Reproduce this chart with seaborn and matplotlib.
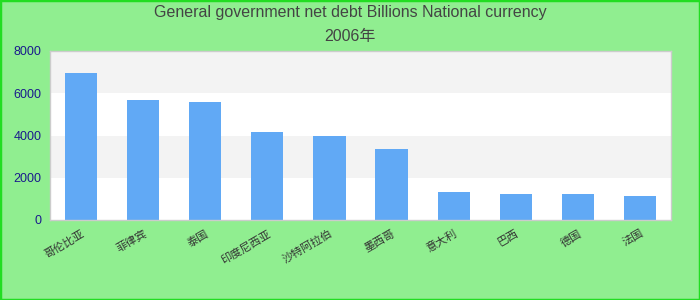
import matplotlib
matplotlib.use("Agg")
import matplotlib.pyplot as plt
import seaborn as sns
import pandas as pd
from matplotlib.patches import Rectangle

countries = ["哥伦比亚", "菲律宾", "泰国", "印度尼西亚", "沙特阿拉伯",
             "墨西哥", "意大利", "巴西", "德国", "法国"]
values = [6950, 5700, 5600, 4150, 3980, 3370, 1330, 1240, 1240, 1140]
yticks = [0, 2000, 4000, 6000, 8000]
title_line1 = "General government net debt Billions National currency"
title_line2 = "2006年"

sns.set_theme(style="white")
plt.rcParams['font.family'] = ['Liberation Sans', 'Noto Sans CJK SC', 'DejaVu Sans']

df = pd.DataFrame({"country": countries, "value": values})

fig = plt.figure(figsize=(7, 3), dpi=100, facecolor="#90EE90")
fig.patches.append(Rectangle((0, 0), 1, 1, transform=fig.transFigure,
                             fill=False, edgecolor="#22dd22", linewidth=2.5))
ax = fig.add_axes([50/700, 80/300, 621/700, 169/300])
ax.set_facecolor("white")

# alternating bands
for i in range(len(yticks) - 1):
    if i % 2 == 1:
        ax.axhspan(yticks[i], yticks[i+1], color="#f3f3f3", zorder=0, lw=0)

sns.barplot(data=df, x="country", y="value", color="#61a9f5", width=0.52,
            saturation=1, ax=ax, zorder=2, linewidth=0, edgecolor="none")

ax.set_ylim(0, 8000)
ax.set_xlim(-0.5, len(countries) - 0.5)
ax.set_yticks(yticks)
ax.set_yticklabels([str(t) for t in yticks], color="#1a1a8c", fontsize=9)
ax.set_xticks(range(len(countries)))
ax.set_xticklabels(countries, rotation=30, ha="right", fontsize=8, color="#333333",
                   rotation_mode="anchor")
ax.tick_params(axis="both", length=0, pad=6)
ax.set_xlabel("")
ax.set_ylabel("")
for s in ax.spines.values():
    s.set_color("#cccccc")
    s.set_linewidth(1)
ax.grid(False)

fig.text(0.5, 1 - 13/300, title_line1, ha="center", va="center", fontsize=11.5, color="#444444")
fig.text(0.5, 1 - 37/300, title_line2, ha="center", va="center", fontsize=11.5, color="#444444")

fig.savefig("out.png", dpi=100, facecolor=fig.get_facecolor())
